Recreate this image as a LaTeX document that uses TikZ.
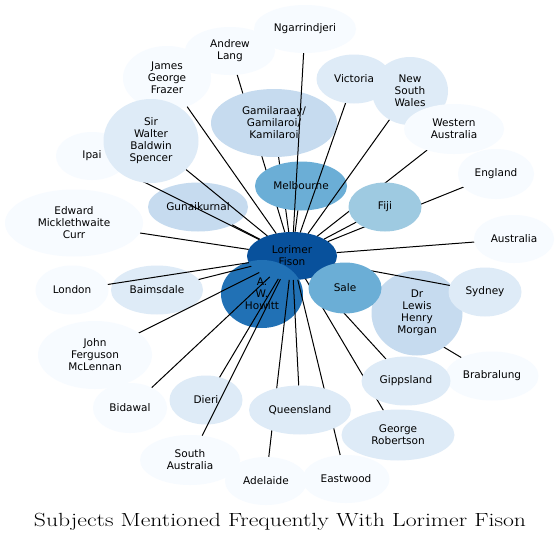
\documentclass[tikz,border=0pt]{standalone}
\usepackage{fontspec}
\usepackage{graphicx}
\usetikzlibrary{shapes.geometric}
\newfontfamily\entfont{DejaVu Sans}
\definecolor{bA}{HTML}{F7FBFF}
\definecolor{bB}{HTML}{DEEBF7}
\definecolor{bC}{HTML}{C6DBEF}
\definecolor{bD}{HTML}{9ECAE1}
\definecolor{bE}{HTML}{6BAED6}
\definecolor{bF}{HTML}{2171B5}
\definecolor{bG}{HTML}{08519C}
\pgfdeclarelayer{bgl}
\pgfdeclarelayer{edgelow}
\pgfdeclarelayer{nodelow}
\pgfdeclarelayer{nodehigh}
\pgfsetlayers{bgl,edgelow,nodelow,main,nodehigh}
\begin{document}
\begin{tikzpicture}[x=1pt,y=-1pt,
  ent/.style={ellipse,inner sep=0pt,outer sep=0pt,align=center,text=black,
    font=\entfont\fontsize{10.5}{12}\selectfont},
  sz/.style 2 args={minimum width={2*#1pt},minimum height={2*#2pt}},
  link/.style={draw=black,line width=1pt}]
\useasboundingbox (0,0) rectangle (560,541);
\begin{pgfonlayer}{bgl}
\fill[white] (0,0) rectangle (560,541);
\end{pgfonlayer}

\begin{pgfonlayer}{nodelow}
\node[ent,sz={45}{24},fill=bG] (fison) at (292,256) {Lorimer\\Fison};
\node[ent,sz={41}{34},fill=bF] (howitt) at (262,294) {A.\\W.\\Howitt};
\node[ent,sz={63}{34},fill=bC] (gam) at (274,123) {Gamilaraay/\\Gamilaroi/\\Kamilaroi};
\node[ent,sz={46}{24.5},fill=bE] (melb) at (301,186) {Melbourne};
\node[ent,sz={50}{24.5},fill=bC] (gunai) at (198,207) {Gunaikurnal};
\node[ent,sz={46}{24.5},fill=bB] (baims) at (157,290) {Baimsdale};
\node[ent,sz={36.5}{24.5},fill=bB] (dieri) at (206,400) {Dieri};
\node[ent,sz={45.5}{42.5},fill=bC] (morgan) at (417,313) {Dr\\Lewis\\Henry\\Morgan};
\end{pgfonlayer}

\begin{pgfonlayer}{nodehigh}
\node[ent,sz={51}{24},fill=bA] (ngarr) at (305,29) {Ngarrindjeri};
\node[ent,sz={45}{24},fill=bA] (lang) at (230,51) {Andrew\\Lang};
\node[ent,sz={44}{32},fill=bA] (frazer) at (167,78) {James\\George\\Frazer};
\node[ent,sz={36}{24},fill=bA] (ipai) at (92,156) {Ipai};
\node[ent,sz={47.5}{42},fill=bB] (spencer) at (151,141) {Sir\\Walter\\Baldwin\\Spencer};
\node[ent,sz={37.5}{24.5},fill=bB] (victoria) at (354,79) {Victoria};
\node[ent,sz={38}{34},fill=bB] (nsw) at (410,91) {New\\South\\Wales};
\node[ent,sz={50}{25},fill=bA] (wa) at (454,129) {Western\\Australia};
\node[ent,sz={38}{25},fill=bA] (england) at (496,174) {England};
\node[ent,sz={36.5}{24.5},fill=bD] (fiji) at (385,207) {Fiji};
\node[ent,sz={69}{33.5},fill=bA] (curr) at (74,223) {Edward\\Micklethwaite\\Curr};
\node[ent,sz={40}{24},fill=bA] (australia) at (514,239) {Australia};
\node[ent,sz={36.5}{24.5},fill=bA] (london) at (72,290) {London};
\node[ent,sz={36.5}{25.5},fill=bE] (sale) at (345,288) {Sale};
\node[ent,sz={36.5}{24.5},fill=bB] (sydney) at (485,292) {Sydney};
\node[ent,sz={57}{34},fill=bA] (mclennan) at (95,355) {John\\Ferguson\\McLennan};
\node[ent,sz={37}{25},fill=bA] (bidawal) at (130,408) {Bidawal};
\node[ent,sz={46.5}{24.5},fill=bA] (brab) at (492,376) {Brabralung};
\node[ent,sz={44.5}{24.5},fill=bB] (gipps) at (406,381) {Gippsland};
\node[ent,sz={51}{24.5},fill=bB] (queens) at (300,410) {Queensland};
\node[ent,sz={56.5}{25.5},fill=bB] (george) at (398,435) {George\\Robertson};
\node[ent,sz={50}{25},fill=bA] (sa) at (190,460) {South\\Australia};
\node[ent,sz={41}{24},fill=bA] (adelaide) at (266,481) {Adelaide};
\node[ent,sz={43.5}{24},fill=bA] (eastwood) at (346,479) {Eastwood};
\end{pgfonlayer}

\begin{pgfonlayer}{edgelow}
\draw[link] (fison) -- (lang);
\draw[link] (fison) -- (gam);
\draw[link] (fison) -- (brab);
\end{pgfonlayer}

\draw[link] (fison) -- (ngarr);
\draw[link] (fison) -- (frazer);
\draw[link] (fison) -- (ipai);
\draw[link] (fison) -- (spencer);
\draw[link] (fison) -- (victoria);
\draw[link] (fison) -- (nsw);
\draw[link] (fison) -- (wa);
\draw[link] (fison) -- (england);
\draw[link] (fison) -- (melb);
\draw[link] (fison) -- (fiji);
\draw[link] (fison) -- (gunai);
\draw[link] (fison) -- (curr);
\draw[link] (fison) -- (australia);
\draw[link] (fison) -- (sydney);
\draw[link] (fison) -- (baims);
\draw[link] (fison) -- (london);
\draw[link] (fison) -- (morgan);
\draw[link] (fison) -- (mclennan);
\draw[link] (fison) -- (gipps);
\draw[link] (fison) -- (bidawal);
\draw[link] (fison) -- (dieri);
\draw[link] (fison) -- (queens);
\draw[link] (fison) -- (george);
\draw[link] (fison) -- (sa);
\draw[link] (fison) -- (adelaide);
\draw[link] (fison) -- (eastwood);

\node[anchor=base,inner sep=0pt] (title) at (280,526)
  {\resizebox{492pt}{13.3pt}{\fontsize{18}{20}\selectfont Subjects Mentioned Frequently With Lorimer Fison}};
\end{tikzpicture}
\end{document}
